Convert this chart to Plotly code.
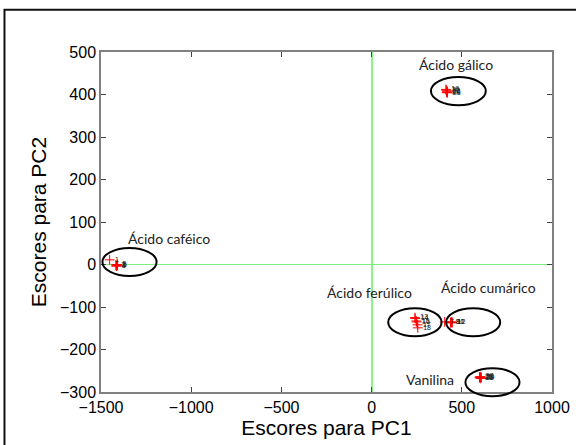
import plotly.graph_objects as go

# --- data ---
pc1 = [-1452, -1418, -1415, -1413, -1410, -1408,
       405, 437, 440, 442, 445, 447,
       240, 242, 248, 250, 255, 256,
       412, 414, 416, 418, 420, 421,
       598, 600, 602, 604, 606, 608]
pc2 = [11, -1, -4, -3, 0, -2,
       -135, -137, -136, -135, -137, -136,
       -125, -127, -133, -135, -142, -149,
       412, 410, 405, 408, 404, 406,
       -265, -267, -264, -266, -268, -265]
sample_labels = [str(i) for i in range(1, 31)]

groups = ["Ácido caféico", "Ácido gálico", "Ácido ferúlico", "Ácido cumárico", "Vanilina"]
group_label_x = [-1123, 468, -14, 649, 323]
group_label_y = [62, 470, -67, -55, -271]
ellipse_cx = [-1342, 481, 240, 563, 670]
ellipse_cy = [6, 408, -136, -136, -277]
ellipse_rx = [150, 152, 148, 150, 150]
ellipse_ry = [33, 33, 33, 33, 33]

x_ticks = [-1500, -1000, -500, 0, 500, 1000]
y_ticks = [-300, -200, -100, 0, 100, 200, 300, 400, 500]
x_range = [-1500, 1000]
y_range = [-300, 500]

def px(x):
    return (x - x_range[0]) / (x_range[1] - x_range[0])

def py(y):
    return (y - y_range[0]) / (y_range[1] - y_range[0])

fig = go.Figure()
fig.add_trace(go.Scatter(
    x=pc1, y=pc2, mode="markers+text",
    text=sample_labels, textposition="middle right",
    textfont=dict(family="Liberation Sans", size=7, color="#222"),
    marker=dict(symbol="cross-thin", size=7, line=dict(color="red", width=1), color="red"),
    showlegend=False, cliponaxis=False, hoverinfo="skip"))

shapes = []
for cx, cy, rx, ry in zip(ellipse_cx, ellipse_cy, ellipse_rx, ellipse_ry):
    shapes.append(dict(type="circle", xref="paper", yref="paper",
                       x0=px(cx - rx), x1=px(cx + rx), y0=py(cy - ry), y1=py(cy + ry),
                       line=dict(color="black", width=2)))
# outer frame (right and bottom edges run off the page)
shapes.append(dict(type="rect", xref="paper", yref="paper",
                   x0=-0.214, x1=1.1, y0=-0.3, y1=1.124,
                   line=dict(color="#111", width=2)))

annotations = []
for name, lx, ly in zip(groups, group_label_x, group_label_y):
    annotations.append(dict(x=lx, y=ly, xref="x", yref="y", text=name, showarrow=False,
                            font=dict(family="Lato", size=14, color="#222")))

axis_common = dict(showline=True, mirror="ticks", linecolor="#808080", linewidth=1.5,
                   ticks="inside", ticklen=5, tickcolor="#444", showgrid=False,
                   zeroline=True, automargin=False,
                   tickfont=dict(family="Liberation Sans", size=16, color="black"))

fig.update_layout(
    width=576, height=445,
    margin=dict(l=101, r=24, t=52, b=53),
    paper_bgcolor="white", plot_bgcolor="white",
    shapes=shapes, annotations=annotations,
    xaxis=dict(range=x_range, tickvals=x_ticks, zerolinecolor="#88f588", zerolinewidth=2,
               title=dict(text="Escores para PC1",
                          font=dict(family="Liberation Sans", size=21, color="black"), standoff=2),
               **axis_common),
    yaxis=dict(range=y_range, tickvals=y_ticks, zerolinecolor="#7fee7f", zerolinewidth=1,
               title=dict(text="Escores para PC2",
                          font=dict(family="Liberation Sans", size=21, color="black"), standoff=8),
               **axis_common),
)
fig.write_html("out.html", config={"displayModeBar": False},
               post_script="document.body.style.margin='0';document.body.style.overflow='hidden';")
